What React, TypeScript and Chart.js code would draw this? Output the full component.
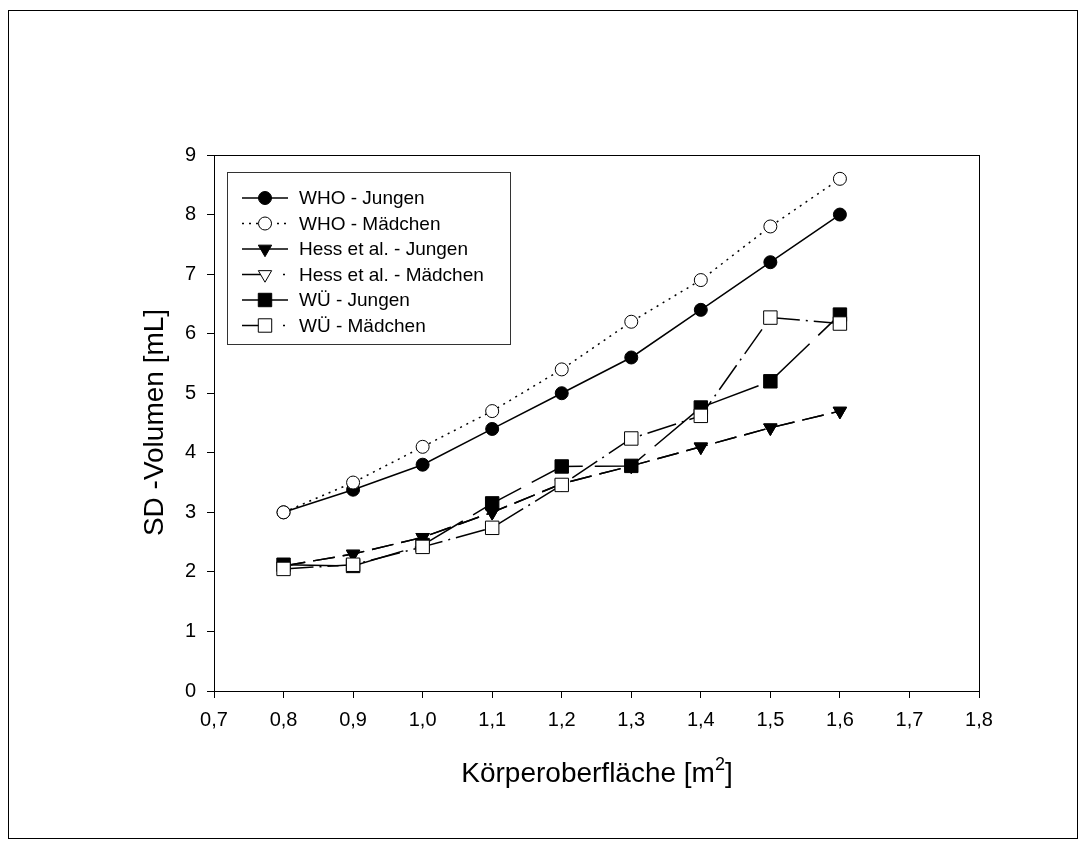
import React, { useEffect, useRef } from "react";
import { Chart, registerables } from "chart.js";

Chart.register(...registerables);

// ---------- data ----------
const bsa = [0.8, 0.9, 1.0, 1.1, 1.2, 1.3, 1.4, 1.5, 1.6];
const whoBoys = [3.0, 3.38, 3.8, 4.4, 5.0, 5.6, 6.4, 7.2, 8.0];
const whoGirls = [3.0, 3.5, 4.1, 4.7, 5.4, 6.2, 6.9, 7.8, 8.6];
const hessBoys = [2.1, 2.3, 2.58, 3.0, 3.48, 3.78, 4.1, 4.42, 4.7];
const hessGirls = [2.1, 2.3, 2.58, 3.0, 3.48, 3.78, 4.1, 4.42, 4.7];
const wueBoys = [2.12, 2.1, 2.45, 3.15, 3.77, 3.78, 4.76, 5.2, 6.32];
const wueGirls = [2.05, 2.12, 2.42, 2.74, 3.46, 4.24, 4.62, 6.27, 6.17];

const seriesLabels = [
  "WHO - Jungen",
  "WHO - Mädchen",
  "Hess et al. - Jungen",
  "Hess et al. - Mädchen",
  "WÜ - Jungen",
  "WÜ - Mädchen",
];
const seriesValues = [whoBoys, whoGirls, hessBoys, hessGirls, wueBoys, wueGirls];
// drawing order: lower value = drawn on top
const drawOrder = [5, 4, 2, 3, 1, 0];

const xAxisTitle = "Körperoberfläche [m";
const xAxisTitleSup = "2";
const xAxisTitleEnd = "]";
const yAxisTitle = "SD -Volumen [mL]";

const X_MIN = 0.7;
const X_MAX = 1.8;
const X_STEP = 0.1;
const Y_MIN = 0;
const Y_MAX = 9;
const Y_STEP = 1;

// ---------- styles ----------
type Marker = "circle" | "triangle" | "rect";
const styles: { marker: Marker; filled: boolean; dash: number[]; legendDash: number[]; radius: number }[] = [
  { marker: "circle", filled: true, dash: [], legendDash: [], radius: 6.5 },
  { marker: "circle", filled: false, dash: [2, 5], legendDash: [2, 5], radius: 6.5 },
  { marker: "triangle", filled: true, dash: [22, 8], legendDash: [], radius: 7.7 },
  { marker: "triangle", filled: false, dash: [22, 8], legendDash: [24, 17, 2, 20], radius: 7.7 },
  { marker: "rect", filled: true, dash: [55, 12], legendDash: [], radius: 9.5 },
  { marker: "rect", filled: false, dash: [30, 6, 2, 6], legendDash: [24, 17, 2, 20], radius: 9.5 },
];

const FONT = "'Liberation Sans', Arial, Helvetica, sans-serif";

function drawMarker(ctx: CanvasRenderingContext2D, m: Marker, filled: boolean, x: number, y: number, r: number) {
  ctx.save();
  ctx.setLineDash([]);
  ctx.beginPath();
  if (m === "circle") {
    ctx.arc(x, y, r, 0, Math.PI * 2);
  } else if (m === "triangle") {
    const a = Math.PI / 2;
    for (let i = 0; i < 3; i++) {
      const ang = a + (i * 2 * Math.PI) / 3;
      const px = x + Math.cos(ang) * r;
      const py = y + Math.sin(ang) * r;
      if (i === 0) ctx.moveTo(px, py);
      else ctx.lineTo(px, py);
    }
    ctx.closePath();
  } else {
    const s = Math.SQRT1_2 * r;
    ctx.rect(x - s, y - s, 2 * s, 2 * s);
  }
  ctx.fillStyle = filled ? "#000" : "#fff";
  ctx.fill();
  ctx.lineWidth = 1;
  ctx.strokeStyle = "#000";
  ctx.stroke();
  ctx.restore();
}

const decorPlugin = {
  id: "decor",
  beforeDraw(chart: any) {
    const ctx: CanvasRenderingContext2D = chart.ctx;
    ctx.save();
    ctx.fillStyle = "#fff";
    ctx.fillRect(0, 0, chart.width, chart.height);
    ctx.strokeStyle = "#000";
    ctx.lineWidth = 1;
    ctx.strokeRect(0.5, 2.5, chart.width - 2, chart.height - 4);
    ctx.restore();
  },
  afterDraw(chart: any) {
    const ctx: CanvasRenderingContext2D = chart.ctx;
    const a = chart.chartArea;
    ctx.save();
    ctx.strokeStyle = "#000";
    ctx.lineWidth = 1;
    ctx.setLineDash([]);
    ctx.strokeRect(Math.round(a.left) + 0.5, Math.round(a.top) + 0.5, Math.round(a.right - a.left), Math.round(a.bottom - a.top));

    // legend
    const lx = 219.5;
    const ly = 164.5;
    const lw = 283;
    const lh = 172;
    ctx.strokeStyle = "#333";
    ctx.strokeRect(lx, ly, lw, lh);
    const rowY0 = 190;
    const rowStep = 25.5;
    ctx.font = `19px ${FONT}`;
    ctx.textBaseline = "middle";
    ctx.textAlign = "left";
    seriesLabels.forEach((lab, i) => {
      const y = rowY0 + i * rowStep;
      const st = styles[i];
      ctx.save();
      ctx.strokeStyle = "#000";
      ctx.lineWidth = 1.5;
      ctx.setLineDash(st.legendDash);
      ctx.beginPath();
      ctx.moveTo(234, y);
      ctx.lineTo(280, y);
      ctx.stroke();
      ctx.restore();
      drawMarker(ctx, st.marker, st.filled, 257, y, st.radius);
      ctx.fillStyle = "#000";
      ctx.fillText(lab, 291, y + 1);
    });

    // y axis title
    ctx.save();
    ctx.font = `28px ${FONT}`;
    ctx.fillStyle = "#000";
    ctx.textAlign = "center";
    ctx.textBaseline = "alphabetic";
    ctx.translate(155, 414.5);
    ctx.rotate(-Math.PI / 2);
    ctx.fillText(yAxisTitle, 0, 0);
    ctx.restore();

    // x axis title with superscript
    ctx.save();
    ctx.fillStyle = "#000";
    ctx.textBaseline = "alphabetic";
    ctx.textAlign = "left";
    const big = `28px ${FONT}`;
    const small = `18px ${FONT}`;
    ctx.font = big;
    const w1 = ctx.measureText(xAxisTitle).width;
    const w3 = ctx.measureText(xAxisTitleEnd).width;
    ctx.font = small;
    const w2 = ctx.measureText(xAxisTitleSup).width;
    const total = w1 + w2 + w3;
    const cx = 589;
    const by = 774;
    let x = cx - total / 2;
    ctx.font = big;
    ctx.fillText(xAxisTitle, x, by);
    x += w1;
    ctx.font = small;
    ctx.fillText(xAxisTitleSup, x, by - 12);
    x += w2;
    ctx.font = big;
    ctx.fillText(xAxisTitleEnd, x, by);
    ctx.restore();

    ctx.restore();
  },
};

export default function App() {
  const ref = useRef<HTMLCanvasElement | null>(null);

  useEffect(() => {
    if (!ref.current) return;
    const datasets = seriesLabels.map((label, i) => {
      const st = styles[i];
      return {
        label,
        data: bsa.map((x, j) => ({ x, y: seriesValues[i][j] })),
        borderColor: "#000",
        borderWidth: 1.5,
        borderDash: st.dash,
        backgroundColor: st.filled ? "#000" : "#fff",
        pointStyle: st.marker,
        pointRotation: st.marker === "triangle" ? 180 : 0,
        pointRadius: st.radius,
        pointBorderWidth: 1,
        pointBorderColor: "#000",
        pointBackgroundColor: st.filled ? "#000" : "#fff",
        fill: false,
        tension: 0,
        order: drawOrder[i],
      };
    });

    const chart = new Chart(ref.current, {
      type: "line",
      data: { datasets },
      options: {
        animation: false,
        responsive: false,
        devicePixelRatio: 1,
        events: [],
        layout: { padding: { left: 146, right: 100, top: 147, bottom: 89 } },
        plugins: {
          legend: { display: false },
          tooltip: { enabled: false },
          title: { display: false },
        },
        scales: {
          x: {
            type: "linear",
            min: X_MIN,
            max: X_MAX,
            afterFit: (s: any) => {
              s.height = 60;
            },
            border: { display: false },
            grid: { drawOnChartArea: false, drawTicks: true, tickLength: 7, color: "#000", lineWidth: 1 },
            ticks: {
              stepSize: X_STEP,
              padding: 10,
              color: "#000",
              font: { family: FONT, size: 20 },
              callback: (v: any) => Number(v).toFixed(1).replace(".", ","),
              maxRotation: 0,
              autoSkip: false,
            },
          },
          y: {
            type: "linear",
            min: Y_MIN,
            max: Y_MAX,
            afterFit: (s: any) => {
              s.width = 60;
            },
            border: { display: false },
            grid: { drawOnChartArea: false, drawTicks: true, tickLength: 7, color: "#000", lineWidth: 1 },
            ticks: {
              stepSize: Y_STEP,
              padding: 11,
              color: "#000",
              font: { family: FONT, size: 20 },
              callback: (v: any) => String(v),
              autoSkip: false,
            },
          },
        },
      },
      plugins: [decorPlugin],
    } as any);

    return () => chart.destroy();
  }, []);

  return (
    <div style={{ width: 1071, height: 832 }}>
      <canvas ref={ref} width={1071} height={832} style={{ display: "block" }} />
    </div>
  );
}
